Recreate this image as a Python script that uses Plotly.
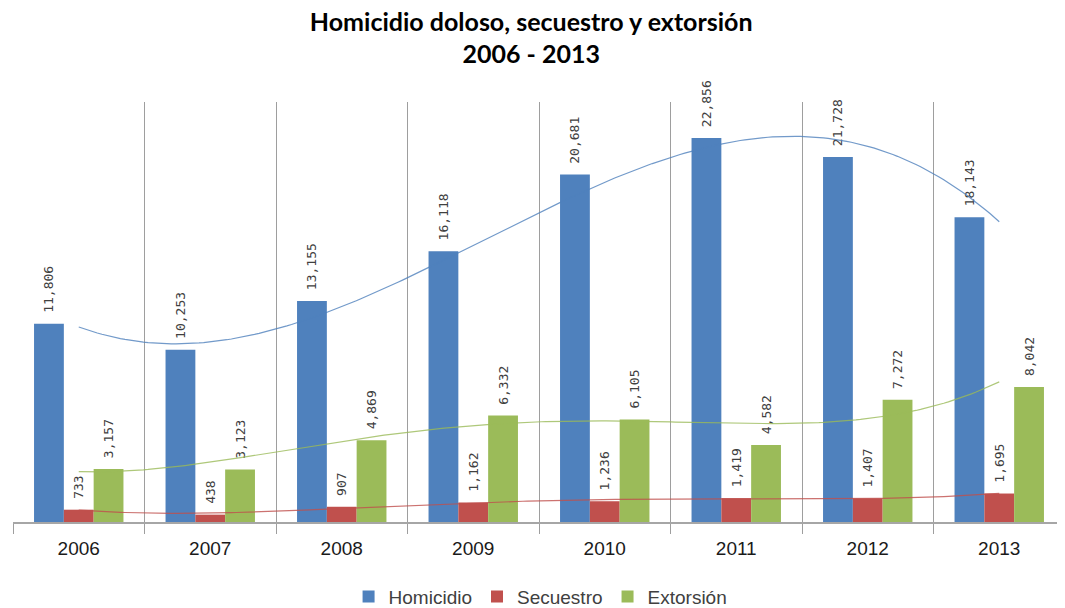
import numpy as np
import plotly.graph_objects as go

years = ["2006", "2007", "2008", "2009", "2010", "2011", "2012", "2013"]
homicidio = [11806, 10253, 13155, 16118, 20681, 22856, 21728, 18143]
secuestro = [733, 438, 907, 1162, 1236, 1419, 1407, 1695]
extorsion = [3157, 3123, 4869, 6332, 6105, 4582, 7272, 8042]

series = [
    ("Homicidio", homicidio, "#4F81BD", 3),
    ("Secuestro", secuestro, "#C0504D", 4),
    ("Extorsión", extorsion, "#9BBB59", 4),
]

x = np.arange(len(years))
fig = go.Figure()
for name, vals, color, order in series:
    fig.add_trace(go.Bar(
        x=x, y=vals, name=name, marker=dict(color=color, line=dict(width=0)),
        text=["\u00a0" + f"{v:,}" for v in vals], textposition="outside", textangle=-90,
        textfont=dict(family="DejaVu Sans Mono", size=13, color="#404040"),
        constraintext="none", cliponaxis=False,
    ))

# polynomial trendlines (fitted to the data, like the spreadsheet trendlines)
xs = np.linspace(0, len(years) - 1, 200)
for name, vals, color, order in series:
    coef = np.polyfit(x, vals, order)
    fig.add_trace(go.Scatter(
        x=xs, y=np.polyval(coef, xs), mode="lines", showlegend=False,
        line=dict(color=color, width=1.2), opacity=0.8, hoverinfo="skip",
    ))

# page body has an 8px margin: figure sized so the chart lands where the reference has it
fig.update_layout(
    width=1057, height=600,
    margin=dict(l=5, r=0, t=94, b=86, autoexpand=False),
    paper_bgcolor="white", plot_bgcolor="white",
    barmode="group", bargap=0.32, bargroupgap=0,
    title=dict(
        text="<b>Homicidio doloso, secuestro y extorsión<br>2006 - 2013</b>",
        x=0.495, xanchor="center", y=0.962, yanchor="middle",
        font=dict(family="Lato", size=25, color="#000000"),
    ),
    legend=dict(
        orientation="h", x=0.5015, xanchor="center", y=-0.178, yanchor="middle",
        font=dict(family="Liberation Sans", size=19, color="#404040"),
        traceorder="normal", itemwidth=30,
    ),
    showlegend=True,
)
fig.update_xaxes(
    range=[-0.5, 7.5], tickvals=list(x), ticktext=years,
    showgrid=False, zeroline=False,
    showline=True, linecolor="#A6A6A6", linewidth=1.5,
    ticks="", ticklabelstandoff=8,
    tickfont=dict(family="Liberation Sans", size=19, color="#1a1a1a"),
    minor=dict(tick0=-0.5, dtick=1, showgrid=True, gridcolor="#9E9E9E", gridwidth=1,
               ticks="outside", ticklen=10, tickcolor="#9E9E9E"),
)
fig.update_yaxes(range=[0, 25000], showgrid=False, zeroline=False,
                 showticklabels=False, showline=False)

fig.write_html("out.html")
